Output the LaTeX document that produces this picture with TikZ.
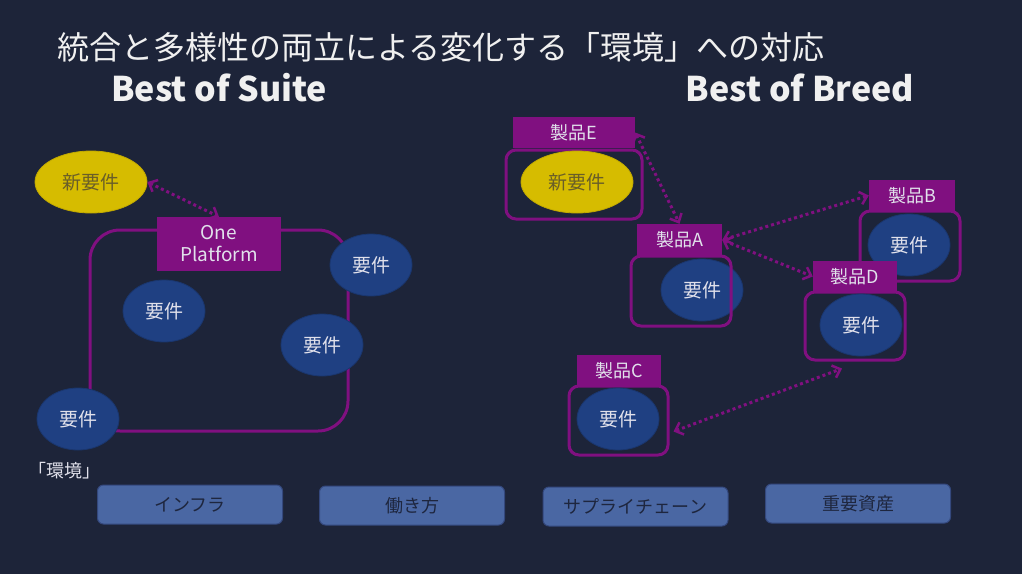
\documentclass[tikz,border=0pt]{standalone}
\usepackage{fontspec}
\setmainfont{Noto Sans CJK JP}
\usetikzlibrary{shapes.geometric,arrows.meta,calc}
\definecolor{bg}{RGB}{29,36,57}
\definecolor{purp}{RGB}{128,16,128}
\definecolor{reqc}{RGB}{31,64,130}
\definecolor{yel}{RGB}{214,188,0}
\definecolor{yeltxt}{RGB}{105,94,40}
\definecolor{envfill}{RGB}{74,103,163}
\definecolor{envline}{RGB}{52,72,125}
\definecolor{envtxt}{RGB}{30,38,62}
\definecolor{lighttxt}{RGB}{225,225,235}
\tikzset{
  reqnode/.style={ellipse, fill=reqc, draw=reqc!85!black, line width=0.8pt, minimum width=82pt, minimum height=62pt, inner sep=0pt, text=lighttxt, font=\fontsize{19}{21}\selectfont},
  newreq/.style={ellipse, fill=yel, draw=yel!90!black, line width=0.8pt, minimum width=112pt, minimum height=62pt, inner sep=0pt, text=yeltxt, font=\fontsize{19}{21}\selectfont},
  plabel/.style={fill=purp, inner sep=0pt, text=lighttxt, font=\fontsize{18}{22}\selectfont, align=center},
  prodbox/.style={draw=purp, line width=3pt, rounded corners=10pt, inner sep=0pt},
  link/.style={draw=purp, line width=3pt, dash pattern=on 3pt off 3pt, {Straight Barb[length=7pt,width=13pt,line width=2.5pt]}-{Straight Barb[length=7pt,width=13pt,line width=2.5pt]}},
  envbox/.style={fill=envfill, draw=envline, line width=1pt, rounded corners=6pt, minimum width=185pt, minimum height=39pt, inner sep=0pt, text=envtxt, font=\fontsize{18}{20}\selectfont},
}
\begin{document}
\begin{tikzpicture}[x=1pt,y=-1pt]
\useasboundingbox (0,0) rectangle (1022,574);
\fill[bg] (0,0) rectangle (1022,574);
% titles
\node[anchor=west, inner sep=0pt, text=white!94!black, font=\fontsize{32}{36}\selectfont] (title) at (57,47) {統合と多様性の両立による変化する「環境」への対応};
\node[inner sep=0pt, text=white!94!black, font=\fontsize{34}{38}\selectfont\bfseries] (suite) at (219,88) {Best of Suite};
\node[inner sep=0pt, text=white!94!black, font=\fontsize{34}{38}\selectfont\bfseries] (breed) at (800,88) {Best of Breed};
% left: Best of Suite
\draw[purp, line width=3pt, rounded corners=30pt] (90,230) rectangle (348,431);
\node[plabel, minimum width=124pt, minimum height=54pt, font=\fontsize{19}{22}\selectfont] (op) at (219,244) {One\\Platform};
\node[newreq] (nl) at (91,182) {新要件};
\node[reqnode] (r1) at (164,311) {要件};
\node[reqnode] (r2) at (371,265) {要件};
\node[reqnode] (r3) at (322,345) {要件};
\node[reqnode] (r4) at (78,419) {要件};
\node[inner sep=0pt, text=lighttxt, font=\fontsize{18}{20}\selectfont] (env) at (64,471) {「環境」};
\draw[link] (nl.east) -- (op.north);
% right: Best of Breed
% E
\node[prodbox, minimum width=136pt, minimum height=69pt] (boxE) at (574,184.5) {};
\node[newreq] (nE) at (577,182) {新要件};
\node[plabel, minimum width=122pt, minimum height=31pt] (labE) at (574,132.5) {製品E};
% A
\node[reqnode] (rA) at (702,290) {要件};
\node[prodbox, minimum width=100pt, minimum height=70pt] (boxA) at (681,291) {};
\node[plabel, minimum width=85pt, minimum height=32pt] (labA) at (679.5,240) {製品A};
% B
\node[prodbox, minimum width=100pt, minimum height=70pt] (boxB) at (910,246) {};
\node[reqnode] (rB) at (909,245) {要件};
\node[plabel, minimum width=86pt, minimum height=31pt] (labB) at (912,195.5) {製品B};
% D
\node[prodbox, minimum width=100pt, minimum height=68pt] (boxD) at (855,326) {};
\node[reqnode] (rD) at (861,325) {要件};
\node[plabel, minimum width=84pt, minimum height=31pt] (labD) at (855,276.5) {製品D};
% C
\node[prodbox, minimum width=99pt, minimum height=69pt] (boxC) at (618.5,420.5) {};
\node[reqnode] (rC) at (618,419) {要件};
\node[plabel, minimum width=84pt, minimum height=31pt] (labC) at (619,370.5) {製品C};
% links
\draw[link] (labE.east) -- (labA.north);
\draw[link] (labA.east) -- (labB.west);
\draw[link] (labA.east) -- (labD.west);
\draw[link] ([xshift=4pt,yshift=-11pt]boxC.east) -- ([xshift=-13pt,yshift=-7pt]boxD.south);
% bottom environment boxes
\node[envbox] (infra) at (190,504.5) {インフラ};
\node[envbox] (work) at (412,505.5) {働き方};
\node[envbox] (supply) at (635.5,506.5) {サプライチェーン};
\node[envbox] (asset) at (858,503.5) {重要資産};
\end{tikzpicture}
\end{document}
